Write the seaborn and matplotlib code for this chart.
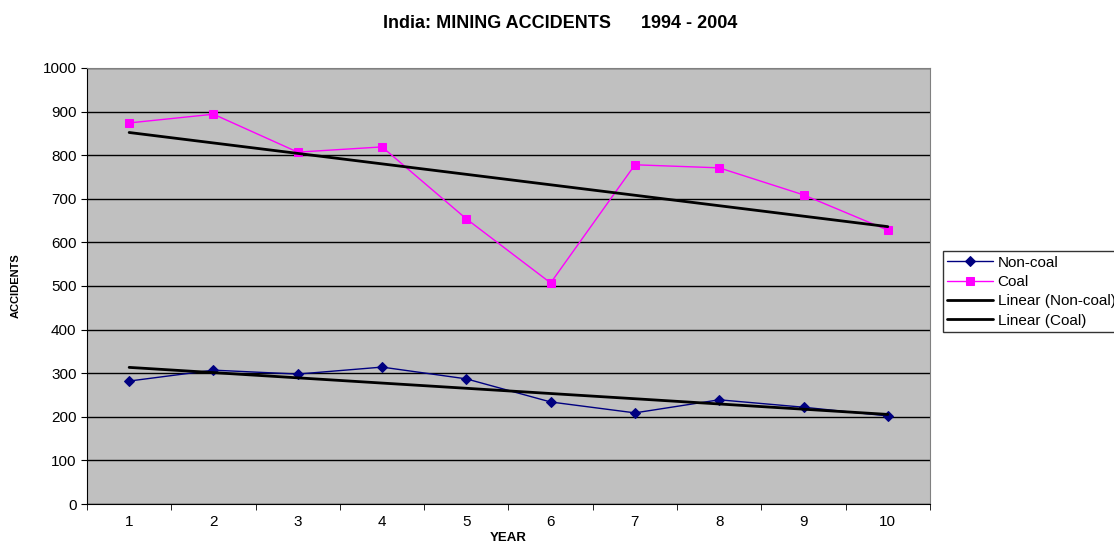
import numpy as np
import pandas as pd
from matplotlib import pyplot as plt
import seaborn as sns

years = [1, 2, 3, 4, 5, 6, 7, 8, 9, 10]
non_coal = [282, 307, 298, 314, 287, 234, 209, 239, 222, 202]
coal = [874, 894, 807, 819, 654, 507, 778, 771, 709, 628]

df = pd.DataFrame({"Year": years, "Non-coal": non_coal, "Coal": coal})

sns.set_style("white")
plt.rcParams["font.family"] = ["Liberation Sans", "DejaVu Sans"]
plt.rcParams["text.color"] = "black"
plt.rcParams["xtick.color"] = "black"
plt.rcParams["ytick.color"] = "black"
plt.rcParams["axes.labelcolor"] = "black"

fig = plt.figure(figsize=(11.14, 5.47), dpi=100)
ax = fig.add_axes([0.0781, 0.0786, 0.7567, 0.7971])
ax.set_facecolor("#c0c0c0")

sns.lineplot(data=df, x="Year", y="Non-coal", ax=ax, color="#000080", marker="D",
             markersize=5, markeredgecolor="#000080", linewidth=1, label="Non-coal")
sns.lineplot(data=df, x="Year", y="Coal", ax=ax, color="#ff00ff", marker="s",
             markersize=6, markeredgecolor="#ff00ff", linewidth=1, label="Coal")

# linear trendlines
x = np.array(years)
for col, name in [("Non-coal", "Linear (Non-coal)"), ("Coal", "Linear (Coal)")]:
    m, b = np.polyfit(x, df[col], 1)
    ax.plot([x[0], x[-1]], [m * x[0] + b, m * x[-1] + b], color="black", linewidth=2, label=name)

ax.set_xlim(0.5, 10.5)
ax.set_ylim(0, 1000)
ax.set_yticks(range(0, 1001, 100))
ax.set_xticks(years)
ax.set_xticks(np.arange(0.5, 11, 1), minor=True)
ax.tick_params(axis="x", which="major", length=0, labelsize=11, pad=8)
ax.tick_params(axis="x", which="minor", length=4, direction="out", bottom=True)
ax.tick_params(axis="y", length=4, direction="out", left=True, labelsize=11)
ax.yaxis.grid(True, color="black", linewidth=1)
ax.set_axisbelow(True)
for s in ["top", "right"]:
    ax.spines[s].set_color("#808080")
for s in ["left", "bottom"]:
    ax.spines[s].set_color("black")

ax.set_xlabel("YEAR", fontsize=9.5, fontweight="bold", labelpad=2)
ax.set_ylabel("ACCIDENTS", fontsize=8, fontweight="bold", labelpad=16)
fig.text(0.503, 0.957, "India: MINING ACCIDENTS      1994 - 2004", ha="center", va="center",
         fontsize=13, fontweight="bold")

leg = ax.legend(loc="upper left", bbox_to_anchor=(1.015, 0.58), frameon=True, fontsize=11,
                fancybox=False, edgecolor="black", borderpad=0.3, labelspacing=0.35,
                handlelength=3, handletextpad=0.3, borderaxespad=0)
leg.get_frame().set_linewidth(1)

fig.savefig("out.png", dpi=100)
